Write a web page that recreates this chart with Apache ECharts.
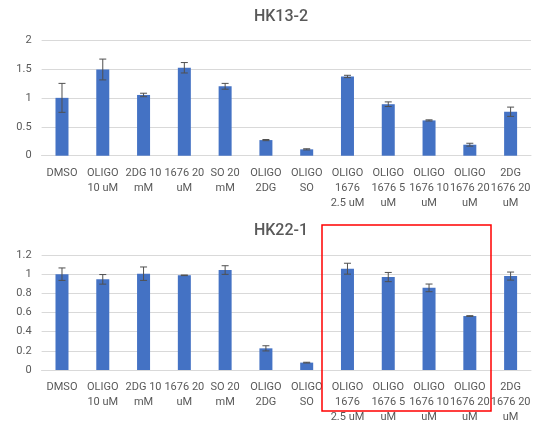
<!DOCTYPE html>
<html><head><meta charset="utf-8">
<script src="https://cdn.jsdelivr.net/npm/echarts@6/dist/echarts.min.js"></script>
<style>html,body{margin:0;padding:0;background:#fff}#c{width:536px;height:421px}</style>
</head><body><div id="c"></div>
<script>
const categories = ["DMSO","OLIGO\n10 uM","2DG 10\nmM","1676 20\nuM","SO 20\nmM","OLIGO\n2DG","OLIGO\nSO","OLIGO\n1676\n2.5 uM","OLIGO\n1676 5\nuM","OLIGO\n1676 10\nuM","OLIGO\n1676 20\nuM","2DG\n1676 20\nuM"];
const hk13Values = [1.00, 1.49, 1.05, 1.52, 1.20, 0.27, 0.11, 1.37, 0.89, 0.61, 0.19, 0.76];
const hk13Errors = [0.25, 0.18, 0.03, 0.09, 0.05, 0.01, 0.01, 0.02, 0.04, 0.01, 0.025, 0.08];
const hk22Values = [1.00, 0.946, 1.005, 0.988, 1.043, 0.226, 0.077, 1.057, 0.970, 0.857, 0.563, 0.980];
const hk22Errors = [0.065, 0.05, 0.07, 0.003, 0.045, 0.027, 0.004, 0.057, 0.048, 0.04, 0.004, 0.042];
const titles = ["HK13-2", "HK22-1"];

const FONT = "Roboto";
const GRAY = "#595959";
const chart = echarts.init(document.getElementById('c'), null, {renderer: 'canvas'});

function errSeries(idx, vals, errs) {
  return {
    type: 'custom', xAxisIndex: idx, yAxisIndex: idx, z: 5,
    data: vals.map((v, i) => [i, v - errs[i], v + errs[i]]),
    renderItem: function (params, api) {
      const lo = api.coord([api.value(0), api.value(1)]);
      const hi = api.coord([api.value(0), api.value(2)]);
      const w = 3.5;
      const st = {stroke: '#505050', lineWidth: 1};
      return {type: 'group', children: [
        {type: 'line', shape: {x1: lo[0], y1: lo[1], x2: hi[0], y2: hi[1]}, style: st},
        {type: 'line', shape: {x1: lo[0]-w, y1: lo[1], x2: lo[0]+w, y2: lo[1]}, style: st},
        {type: 'line', shape: {x1: hi[0]-w, y1: hi[1], x2: hi[0]+w, y2: hi[1]}, style: st}
      ]};
    }
  };
}

const xAx = (i) => ({
  type: 'category', gridIndex: i, data: categories,
  axisLine: {lineStyle: {color: '#d9d9d9'}}, axisTick: {show: false},
  axisLabel: {interval: 0, color: GRAY, fontFamily: FONT, fontSize: 11, lineHeight: 15, margin: 10}
});
const yAx = (i, max, interval) => ({
  type: 'value', gridIndex: i, min: 0, max: max, interval: interval,
  axisLine: {show: false}, axisTick: {show: false},
  splitLine: {lineStyle: {color: '#d9d9d9'}},
  axisLabel: {color: GRAY, fontFamily: FONT, fontSize: 11, margin: 10}
});

chart.setOption({
  animation: false,
  title: [
    {text: titles[0], left: 276, top: 4, textAlign: 'center', textStyle: {color: GRAY, fontFamily: FONT, fontSize: 16, fontWeight: 500}},
    {text: titles[1], left: 276, top: 218, textAlign: 'center', textStyle: {color: GRAY, fontFamily: FONT, fontSize: 16, fontWeight: 500}}
  ],
  grid: [
    {left: 41.6, right: 5, top: 40, bottom: 265.3, containLabel: false, outerBoundsMode: 'none'},
    {left: 41.6, right: 5, top: 255, bottom: 51, containLabel: false, outerBoundsMode: 'none'}
  ],
  xAxis: [xAx(0), xAx(1)],
  yAxis: [yAx(0, 2, 0.5), yAx(1, 1.2, 0.2)],
  series: [
    {type: 'bar', xAxisIndex: 0, yAxisIndex: 0, data: hk13Values, barWidth: 13, itemStyle: {color: '#4472C4'}},
    errSeries(0, hk13Values, hk13Errors),
    {type: 'bar', xAxisIndex: 1, yAxisIndex: 1, data: hk22Values, barWidth: 13, itemStyle: {color: '#4472C4'}},
    errSeries(1, hk22Values, hk22Errors)
  ],
  graphic: [
    {type: 'rect', shape: {x: 322, y: 225, width: 169, height: 186}, style: {fill: 'none', stroke: '#FF0000', lineWidth: 1.5}, z: 100}
  ]
});
</script></body></html>
